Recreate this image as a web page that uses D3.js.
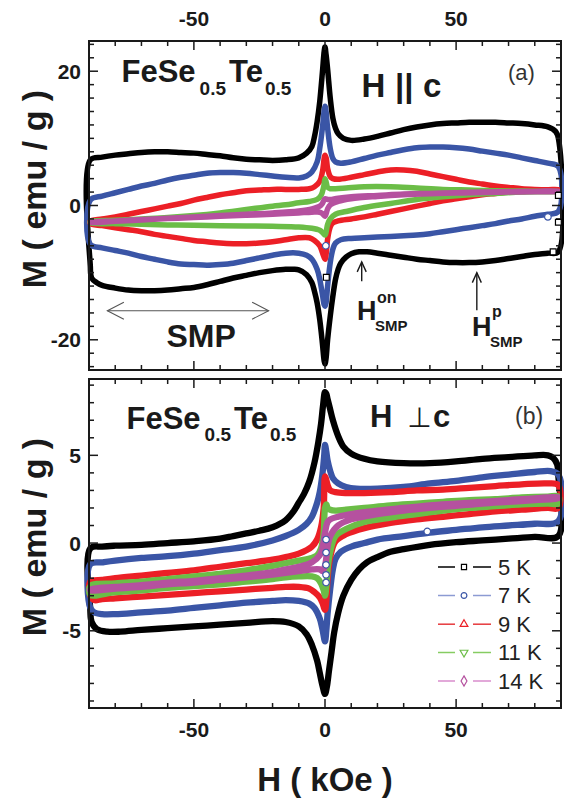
<!DOCTYPE html>
<html><head><meta charset="utf-8">
<script src="https://cdn.jsdelivr.net/npm/d3@7"></script>
<style>html,body{margin:0;padding:0;background:#fff;} svg{display:block;font-family:"Liberation Sans",Arial,Helvetica,sans-serif;}</style>
</head><body><svg id="c" width="564" height="799"></svg>
<script>
// ---------- data ----------
const temps = ["5 K", "7 K", "9 K", "11 K", "14 K"];
const colors = ["#000000", "#3a55a6", "#ec1f26", "#6bbd47", "#b5519f"];
const legendLineColors = ["#000000", "#8c9bd3", "#e6393d", "#86cc62", "#d98ccc"];
const symbolsKind = ["square", "circle", "triangle", "triangleDown", "diamond"];

const xMajor = [-50, 0, 50];
const xLabels = ["-50", "0", "50"];
const yMajorA = [-20, 0, 20];
const yLabelsA = ["-20", "0", "20"];
const yMajorB = [-5, 0, 5];
const yLabelsB = ["-5", "0", "5"];

// Panel (a) H || c : [H (kOe), M (emu/g)] upper (field decreasing) and lower branches
const a5Up = [[-89.5,6.8],[-85,7.2],[-80,7.5],[-75,7.7],[-70,7.9],[-65,8.0],[-60,8.0],[-55,7.9],[-50,7.8],[-45,7.6],[-40,7.4],[-35,7.1],[-30,6.9],[-25,6.8],[-20,6.7],[-15,6.8],[-10,7.1],[-7,7.8],[-5,8.8],[-4,10.3],[-3,12.5],[-2,15.5],[-1,19.8],[-0.3,23],[0,23.6],[0.4,22.5],[1,20.3],[2,16.0],[3,13.0],[4,11.5],[5,10.7],[7,10.0],[10,9.7],[15,9.9],[20,10.3],[25,10.8],[30,11.3],[35,11.7],[40,12.0],[45,12.2],[50,12.3],[55,12.4],[60,12.4],[65,12.4],[70,12.3],[75,12.2],[80,12.0],[85,11.7],[88,11.0],[89,10.0]];
const a5Dn = [[-89.5,-9.0],[-89,-10.8],[-87,-11.5],[-85,-11.9],[-80,-12.3],[-75,-12.6],[-70,-12.7],[-65,-12.7],[-60,-12.6],[-55,-12.4],[-50,-12.2],[-45,-11.8],[-40,-11.3],[-35,-10.8],[-30,-10.4],[-25,-10.0],[-20,-9.7],[-15,-9.5],[-12,-9.5],[-10,-9.6],[-7,-10.3],[-5,-11.5],[-4,-12.8],[-3,-14.5],[-2,-17.0],[-1,-20.5],[-0.3,-23.2],[0,-23.6],[0.4,-22.8],[1,-20.0],[2,-16.5],[3,-13.5],[4,-11.0],[5,-9.5],[6,-8.6],[8,-7.7],[10,-7.2],[13,-6.9],[16,-6.9],[20,-7.1],[25,-7.4],[30,-7.7],[35,-8.0],[40,-8.2],[45,-8.4],[50,-8.5],[55,-8.5],[60,-8.4],[65,-8.2],[70,-7.9],[75,-7.6],[80,-7.3],[85,-7.1],[89,-6.9]];
const a7Up = [[-89.5,0.8],[-85,1.4],[-80,1.9],[-75,2.4],[-70,2.9],[-65,3.3],[-60,3.8],[-55,4.2],[-50,4.5],[-45,4.8],[-40,4.9],[-35,4.9],[-30,4.8],[-25,4.6],[-20,4.4],[-15,4.2],[-10,4.1],[-7,4.4],[-5,5.0],[-3,6.5],[-2,8.5],[-1,11.5],[-0.3,14.2],[0,14.8],[0.4,14.0],[1,11.5],[2,8.5],[3,7.0],[4,6.5],[6,6.3],[10,6.5],[15,7.0],[20,7.5],[25,7.9],[30,8.3],[35,8.6],[40,8.7],[45,8.7],[50,8.6],[55,8.4],[60,8.1],[65,7.8],[70,7.5],[75,7.1],[80,6.7],[85,6.3],[89,5.8]];
const a7Dn = [[-89.5,-5.8],[-85,-6.3],[-80,-6.7],[-75,-7.1],[-70,-7.6],[-65,-8.0],[-60,-8.4],[-55,-8.7],[-50,-8.8],[-45,-8.9],[-40,-8.8],[-35,-8.6],[-30,-8.2],[-25,-7.8],[-20,-7.4],[-15,-7.1],[-10,-7.1],[-7,-7.4],[-5,-8.0],[-3,-9.5],[-2,-11.0],[-1,-13.2],[-0.3,-14.8],[0,-15.0],[0.4,-14.5],[1,-12.0],[2,-8.5],[3,-6.5],[4,-5.6],[6,-5.1],[10,-4.9],[15,-4.8],[20,-4.7],[25,-4.6],[30,-4.5],[35,-4.4],[40,-4.2],[45,-3.9],[50,-3.6],[55,-3.3],[60,-3.0],[65,-2.7],[70,-2.3],[75,-2.0],[80,-1.6],[85,-1.3],[89,-0.9]];
const a9Up = [[-89.5,-2.3],[-85,-2.0],[-80,-1.7],[-75,-1.3],[-70,-0.9],[-65,-0.5],[-60,-0.1],[-55,0.3],[-50,0.8],[-45,1.2],[-40,1.6],[-35,1.9],[-30,2.2],[-25,2.3],[-20,2.4],[-15,2.4],[-10,2.4],[-6,2.5],[-4,2.8],[-2,3.6],[-1,5.0],[0,7.5],[0.5,7.0],[1,5.5],[2,4.3],[3,4.0],[5,3.9],[10,4.2],[15,4.6],[20,5.0],[25,5.3],[30,5.3],[35,5.1],[40,4.7],[45,4.3],[50,3.9],[55,3.5],[60,3.2],[65,2.9],[70,2.7],[75,2.5],[80,2.4],[85,2.35],[89,2.35]];
const a9Dn = [[-89.5,-2.7],[-85,-3.0],[-80,-3.3],[-75,-3.6],[-70,-3.9],[-65,-4.3],[-60,-4.6],[-55,-4.9],[-50,-5.2],[-45,-5.4],[-40,-5.6],[-35,-5.7],[-30,-5.7],[-25,-5.6],[-20,-5.4],[-15,-5.1],[-10,-4.8],[-6,-4.8],[-4,-5.2],[-2,-6.0],[-1,-7.0],[0,-8.0],[0.5,-7.0],[1,-5.0],[2,-3.2],[3,-2.6],[5,-2.3],[10,-2.0],[15,-1.7],[20,-1.3],[25,-0.9],[30,-0.5],[35,-0.1],[40,0.3],[45,0.7],[50,1.0],[55,1.3],[60,1.6],[65,1.8],[70,2.0],[75,2.1],[80,2.2],[85,2.25],[89,2.25]];
const a11Up = [[-89.5,-2.4],[-80,-2.2],[-70,-2.0],[-60,-1.8],[-50,-1.5],[-40,-1.1],[-30,-0.6],[-20,-0.1],[-15,0.1],[-10,0.4],[-6,0.6],[-3,0.9],[-1.5,1.5],[-0.5,2.8],[0,4.0],[0.5,3.4],[1,2.7],[2,2.5],[4,2.5],[8,2.6],[15,2.8],[25,2.8],[35,2.6],[45,2.4],[55,2.3],[65,2.2],[75,2.15],[85,2.1],[89,2.1]];
const a11Dn = [[-89.5,-2.6],[-80,-2.7],[-70,-2.8],[-60,-2.9],[-50,-2.95],[-40,-3.0],[-30,-3.05],[-20,-3.1],[-10,-3.2],[-5,-3.4],[-2,-3.7],[-1,-4.0],[0,-4.4],[0.5,-3.8],[1,-2.8],[2,-2.0],[4,-1.3],[8,-0.9],[15,-0.3],[25,0.3],[35,0.9],[45,1.3],[55,1.6],[65,1.8],[75,2.0],[85,2.05],[89,2.1]];
const a14Up = [[-89.5,-2.5],[-80,-2.3],[-70,-2.1],[-60,-1.9],[-50,-1.7],[-40,-1.5],[-30,-1.3],[-20,-1.1],[-10,-0.8],[-5,-0.5],[-2,-0.1],[-1,0.3],[0,1.0],[1,0.9],[2,0.9],[5,1.1],[10,1.3],[20,1.5],[30,1.7],[40,1.8],[50,1.9],[60,2.0],[70,2.05],[80,2.1],[89,2.15]];
const a14Dn = [[-89.5,-2.55],[-80,-2.35],[-70,-2.15],[-60,-1.95],[-50,-1.8],[-40,-1.6],[-30,-1.45],[-20,-1.3],[-10,-1.1],[-5,-1.0],[-2,-1.0],[-1,-1.2],[0,-1.6],[1,-0.5],[2,0.1],[5,0.6],[10,1.0],[20,1.35],[30,1.6],[40,1.75],[50,1.85],[60,1.95],[70,2.0],[80,2.05],[89,2.1]];

// Panel (b) H ⊥ c
const b5Up = [[-89.5,-0.3],[-85,-0.2],[-80,-0.15],[-70,-0.1],[-60,0.0],[-50,0.1],[-40,0.25],[-35,0.4],[-30,0.55],[-25,0.7],[-20,0.9],[-15,1.3],[-12,1.8],[-10,2.3],[-8,2.8],[-6,3.5],[-4,4.6],[-2.5,5.8],[-1.5,6.8],[-0.7,7.9],[0,8.6],[0.5,8.5],[1,8.2],[2,7.6],[3,7.0],[5,6.1],[7,5.5],[10,5.1],[15,4.8],[20,4.65],[30,4.55],[40,4.55],[50,4.65],[60,4.8],[70,4.9],[80,5.0],[85,5.0],[87,4.85],[88.5,4.5],[89,3.8]];
const b5Dn = [[-89.5,-3.8],[-89,-4.5],[-87,-4.9],[-83,-5.05],[-78,-5.05],[-70,-4.95],[-60,-4.85],[-50,-4.75],[-40,-4.65],[-30,-4.55],[-20,-4.45],[-15,-4.5],[-10,-4.75],[-7,-5.2],[-5,-5.8],[-3,-6.7],[-2,-7.4],[-1,-8.1],[0,-8.6],[0.7,-8.2],[1.5,-7.3],[2.5,-6.2],[3.5,-5.1],[5,-4.0],[7,-3.0],[10,-2.1],[13,-1.5],[16,-1.1],[20,-0.8],[25,-0.5],[30,-0.35],[40,-0.1],[50,0.05],[60,0.15],[70,0.25],[80,0.35],[89,0.4]];
const b7Up = [[-89.5,-1.2],[-85,-1.1],[-80,-1.0],[-70,-0.85],[-60,-0.75],[-50,-0.6],[-40,-0.4],[-30,-0.2],[-20,0.15],[-15,0.4],[-10,0.75],[-7,1.1],[-5,1.5],[-3,2.3],[-2,2.9],[-1,3.9],[-0.3,5.0],[0,5.6],[0.5,5.2],[1,4.7],[2,4.1],[3,3.7],[5,3.4],[8,3.2],[12,3.1],[20,3.1],[30,3.2],[40,3.4],[50,3.55],[60,3.75],[70,3.9],[80,4.05],[86,4.1],[89,3.9]];
const b7Dn = [[-89.5,-3.7],[-88,-3.95],[-85,-4.05],[-80,-4.05],[-70,-3.95],[-60,-3.85],[-50,-3.7],[-40,-3.55],[-30,-3.4],[-20,-3.3],[-15,-3.25],[-10,-3.3],[-6,-3.45],[-4,-3.7],[-2,-4.3],[-1,-4.9],[0,-5.6],[0.5,-5.0],[1,-4.0],[2,-2.6],[3,-1.5],[4,-0.9],[6,-0.5],[10,-0.2],[15,0.0],[20,0.2],[30,0.4],[40,0.6],[50,0.75],[60,0.9],[70,1.0],[80,1.1],[89,1.25]];
const b9Up = [[-89.5,-2.2],[-85,-2.1],[-80,-2.0],[-70,-1.85],[-60,-1.7],[-50,-1.55],[-40,-1.35],[-30,-1.15],[-20,-0.95],[-15,-0.8],[-10,-0.6],[-5,-0.2],[-3,0.2],[-1.5,0.9],[-0.5,2.0],[0,3.8],[0.5,3.6],[1,3.3],[2,3.0],[4,2.9],[8,2.85],[15,2.85],[25,2.9],[35,3.0],[45,3.05],[55,3.15],[65,3.25],[75,3.35],[85,3.4],[89,3.3]];
const b9Dn = [[-89.5,-3.0],[-88,-3.25],[-85,-3.2],[-80,-3.15],[-70,-3.05],[-60,-2.95],[-50,-2.85],[-40,-2.75],[-30,-2.65],[-20,-2.55],[-15,-2.5],[-10,-2.5],[-6,-2.6],[-4,-2.8],[-2,-3.1],[-1,-3.4],[0,-3.8],[0.5,-3.3],[1,-2.0],[2,-0.8],[4,0.1],[8,0.5],[15,0.85],[25,1.15],[35,1.35],[45,1.5],[55,1.65],[65,1.8],[75,1.9],[85,2.0],[89,2.0]];
const b11Up = [[-89.5,-2.45],[-80,-2.3],[-70,-2.2],[-60,-2.05],[-50,-1.9],[-40,-1.75],[-30,-1.55],[-20,-1.3],[-15,-1.15],[-10,-1.0],[-5,-0.85],[-3,-0.7],[-1.5,-0.3],[-0.5,0.6],[0,2.0],[0.5,2.2],[1,2.0],[2,1.9],[4,1.85],[8,1.9],[15,2.0],[25,2.15],[35,2.25],[45,2.35],[55,2.45],[65,2.5],[75,2.6],[85,2.65],[89,2.65]];
const b11Dn = [[-89.5,-2.95],[-80,-2.8],[-70,-2.7],[-60,-2.55],[-50,-2.45],[-40,-2.35],[-30,-2.2],[-20,-2.05],[-15,-1.95],[-10,-1.9],[-5,-1.9],[-3,-2.0],[-1.5,-2.3],[-0.5,-2.7],[0,-3.0],[0.5,-2.5],[1,-1.5],[2,-0.5],[4,0.4],[8,0.8],[15,1.2],[25,1.45],[35,1.65],[45,1.85],[55,2.0],[65,2.1],[75,2.2],[85,2.25],[89,2.25]];
const b14Up = [[-89.5,-2.65],[-80,-2.5],[-70,-2.4],[-60,-2.25],[-50,-2.15],[-40,-2.0],[-30,-1.85],[-20,-1.65],[-15,-1.5],[-10,-1.35],[-5,-1.1],[-2,-0.7],[-1,-0.3],[0,0.6],[1,1.2],[2,1.35],[5,1.5],[10,1.65],[20,1.85],[30,2.0],[40,2.15],[50,2.25],[60,2.35],[70,2.45],[80,2.55],[89,2.6]];
const b14Dn = [[-89.5,-2.7],[-80,-2.6],[-70,-2.5],[-60,-2.35],[-50,-2.25],[-40,-2.1],[-30,-1.95],[-20,-1.8],[-15,-1.7],[-10,-1.6],[-5,-1.5],[-2,-1.5],[-1,-1.6],[0,-1.3],[1,-0.2],[2,0.4],[5,1.0],[10,1.35],[20,1.65],[30,1.85],[40,2.0],[50,2.12],[60,2.25],[70,2.35],[80,2.45],[89,2.55]];

// a few isolated open markers visible on top of the bands
const aLooseBlue = [[85,-1.7],[0.3,-6.0]];
const aLooseBlack = [[0.5,-10.7],[87,-6.9],[89,1.5],[89,-2.5]];
const bLooseBlue = [[39,0.66],[0.4,0.2],[0.4,-0.54],[0.4,-1.24],[0.4,-1.81],[0.4,-2.25]];

// ---------- layout ----------
const svg = d3.select("#c");
const X0 = 89, X1 = 561;
const panels = [
  {top: 41, bottom: 370, domain: [-24.5, 24.5], major: yMajorA, labels: yLabelsA, minorStep: 2,
   loops: [[a5Up,a5Dn],[a7Up,a7Dn],[a9Up,a9Dn],[a11Up,a11Dn],[a14Up,a14Dn]], sw: 5.5},
  {top: 379, bottom: 708, domain: [-9.4, 9.35], major: yMajorB, labels: yLabelsB, minorStep: 1,
   loops: [[b5Up,b5Dn],[b7Up,b7Dn],[b9Up,b9Dn],[b11Up,b11Dn],[b14Up,b14Dn]], sw: 6.3}
];
const x = d3.scaleLinear().domain([-90, 90]).range([X0, X1]);
const xMinor = d3.range(-90, 91, 10);

panels.forEach((p, pi) => {
  const y = d3.scaleLinear().domain(p.domain).range([p.bottom, p.top]);
  p.y = y;
  const g = svg.append("g");
  const line = d3.line().x(d => x(d[0])).y(d => y(d[1])).curve(d3.curveCatmullRomClosed.alpha(0.5));
  p.loops.forEach((lp, i) => {
    const pts = lp[0].slice().reverse().concat(lp[1]);
    g.append("path").attr("d", line(pts)).attr("fill", "none")
      .attr("stroke", colors[i]).attr("stroke-width", p.sw).attr("stroke-linejoin", "round");
  });
  g.append("rect").attr("x", X0).attr("y", p.top).attr("width", X1 - X0).attr("height", p.bottom - p.top)
    .attr("fill", "none").attr("stroke", "#1a1a1a").attr("stroke-width", 2);
  const tk = g.append("g").attr("stroke", "#1a1a1a").attr("stroke-width", 1.5);
  xMinor.forEach(v => {
    const len = xMajor.includes(v) ? 9 : 5;
    tk.append("line").attr("x1", x(v)).attr("x2", x(v)).attr("y1", p.bottom).attr("y2", p.bottom - len);
    tk.append("line").attr("x1", x(v)).attr("x2", x(v)).attr("y1", p.top).attr("y2", p.top + len);
  });
  const yMin = Math.ceil(p.domain[0] / p.minorStep) * p.minorStep;
  for (let v = yMin; v <= p.domain[1] + 1e-9; v += p.minorStep) {
    const vv = Math.round(v * 100) / 100;
    const len = p.major.includes(vv) ? 9 : 5;
    tk.append("line").attr("x1", X0).attr("x2", X0 + len).attr("y1", y(vv)).attr("y2", y(vv));
    tk.append("line").attr("x1", X1).attr("x2", X1 - len).attr("y1", y(vv)).attr("y2", y(vv));
  }
  p.major.forEach((v, i) => {
    g.append("text").attr("x", 81).attr("y", y(v)).attr("dy", "0.36em").attr("text-anchor", "end")
      .attr("font-size", 21).attr("font-weight", "bold").attr("fill", "#1a1a1a").text(p.labels[i]);
  });
  g.append("text").attr("transform", `translate(46,${pi === 0 ? 189 : 537}) rotate(-90)`)
    .attr("text-anchor", "middle").attr("font-size", 34).attr("font-weight", "bold").attr("fill", "#1a1a1a")
    .text("M ( emu / g )");
});

xMajor.forEach((v, i) => {
  svg.append("text").attr("x", x(v)).attr("y", 26).attr("text-anchor", "middle")
    .attr("font-size", 21).attr("font-weight", "bold").attr("fill", "#1a1a1a").text(xLabels[i]);
  svg.append("text").attr("x", x(v)).attr("y", 737).attr("text-anchor", "middle")
    .attr("font-size", 21).attr("font-weight", "bold").attr("fill", "#1a1a1a").text(xLabels[i]);
});
svg.append("text").attr("x", 325).attr("y", 791).attr("text-anchor", "middle")
  .attr("font-size", 33).attr("font-weight", "bold").attr("fill", "#1a1a1a").text("H ( kOe )");

function openMarker(pts, yS, type, col) {
  pts.forEach(d => {
    svg.append("path").attr("d", d3.symbol().type(type).size(34)())
      .attr("transform", `translate(${x(d[0])},${yS(d[1])})`)
      .attr("fill", "#fff").attr("stroke", col).attr("stroke-width", 1.2);
  });
}
openMarker(aLooseBlue, panels[0].y, d3.symbolCircle, colors[1]);
openMarker(aLooseBlack, panels[0].y, d3.symbolSquare, colors[0]);
openMarker(bLooseBlue, panels[1].y, d3.symbolCircle, colors[1]);

// ---------- annotations ----------
function formula(x0, yb, dySub, big, small) {
  const t = svg.append("text").attr("x", x0).attr("y", yb).attr("font-weight", "bold")
    .attr("font-size", big).attr("fill", "#1a1a1a");
  t.append("tspan").text("FeSe");
  t.append("tspan").attr("dx", 4).attr("dy", dySub).attr("font-size", small).text("0.5");
  t.append("tspan").attr("dx", 3).attr("dy", -dySub).text("Te");
  t.append("tspan").attr("dx", 2).attr("dy", dySub).attr("font-size", small).text("0.5");
}
formula(121.5, 82, 13, 31, 19);
formula(126.5, 428.5, 12, 31, 19);

function bold(tx, xx, yy, fs, w) {
  return svg.append("text").attr("x", xx).attr("y", yy).attr("font-size", fs)
    .attr("font-weight", w || "bold").attr("fill", "#1a1a1a").text(tx);
}
bold("H", 361.5, 97, 33);
bold("||", 395, 97, 33);
bold("c", 423, 97, 33);
bold("(a)", 508, 80, 22, "normal").attr("fill", "#333");

bold("H", 370, 426.5, 31);
svg.append("text").attr("x", 419.5).attr("y", 426.5).attr("text-anchor", "middle").attr("font-size", 28)
  .attr("fill", "#1a1a1a").attr("font-family", "DejaVu Sans").text("⊥");
bold("c", 433, 426.5, 31);
bold("(b)", 515, 424, 23, "normal").attr("fill", "#333");

const ya = panels[0].y;
const ag = svg.append("g").attr("stroke", "#555").attr("stroke-width", 1.1).attr("fill", "none");
const sx0 = x(-83), sx1 = x(-21.5), sy = ya(-15.67);
ag.append("line").attr("x1", sx0).attr("x2", sx1).attr("y1", sy).attr("y2", sy);
ag.append("path").attr("d", `M${sx0 + 16.5},${sy - 8.5}L${sx0},${sy}L${sx0 + 16.5},${sy + 8.5}`);
ag.append("path").attr("d", `M${sx1 - 16.5},${sy - 8.5}L${sx1},${sy}L${sx1 - 16.5},${sy + 8.5}`);
bold("SMP", 166.5, 346.5, 32);

const hg = svg.append("g").attr("stroke", "#1a1a1a").attr("stroke-width", 1.4).attr("fill", "none");
[[14.0, -8.4, -11.3], [57.9, -10.0, -15.6]].forEach(a => {
  const ax = x(a[0]), t = ya(a[1]), b = ya(a[2]);
  hg.append("line").attr("x1", ax).attr("x2", ax).attr("y1", t).attr("y2", b);
  hg.append("path").attr("d", `M${ax - 4.5},${t + 10}L${ax},${t}L${ax + 4.5},${t + 10}`);
});
bold("H", 357, 320, 27);
bold("on", 377, 303, 16);
bold("SMP", 375, 331, 15);
bold("H", 472, 336, 27);
bold("p", 492, 317, 16);
bold("SMP", 490, 347, 15);

// ---------- legend ----------
const lgBase = [574.5, 603, 631.7, 660, 688.5];
const symType = {square: d3.symbolSquare, circle: d3.symbolCircle, triangle: d3.symbolTriangle,
  triangleDown: d3.symbolTriangle, diamond: d3.symbolDiamond};
temps.forEach((t, i) => {
  const yy = lgBase[i] - 7.5;
  svg.append("line").attr("x1", 438).attr("x2", 455).attr("y1", yy).attr("y2", yy)
    .attr("stroke", legendLineColors[i]).attr("stroke-width", 1.5);
  svg.append("line").attr("x1", 473).attr("x2", 491).attr("y1", yy).attr("y2", yy)
    .attr("stroke", legendLineColors[i]).attr("stroke-width", 1.5);
  svg.append("path").attr("d", d3.symbol().type(symType[symbolsKind[i]]).size(i === 4 ? 30 : 26)())
    .attr("transform", `translate(464,${yy})` + (symbolsKind[i] === "triangleDown" ? " rotate(180)" : ""))
    .attr("fill", "#fff").attr("stroke", colors[i]).attr("stroke-width", 1.2);
  svg.append("text").attr("x", 498).attr("y", lgBase[i]).attr("font-size", 22).attr("fill", "#222").text(t);
});
</script></body></html>
